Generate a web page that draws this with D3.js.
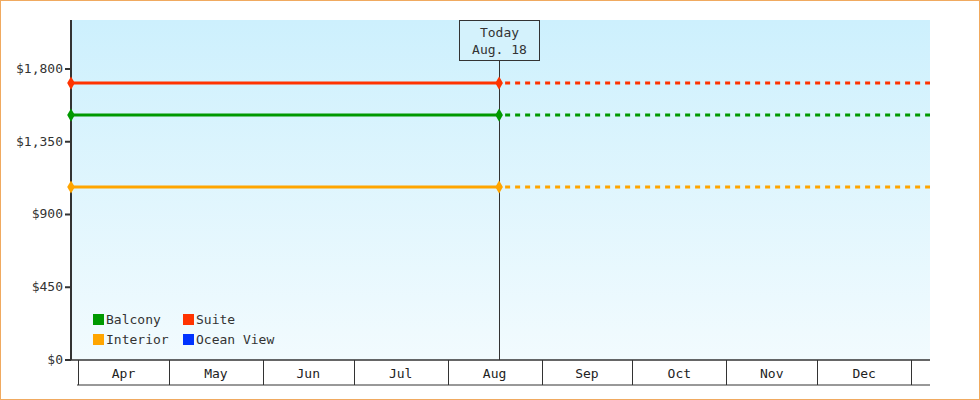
<!DOCTYPE html>
<html><head><meta charset="utf-8">
<script src="https://cdn.jsdelivr.net/npm/d3@7"></script>
<style>body{margin:0}svg{display:block;font-family:"DejaVu Sans Mono",monospace}</style>
</head><body>
<script>
// price series (flat), today marker
var seriesNames = ["Balcony", "Suite", "Interior", "Ocean View"];
var seriesColors = ["#009900", "#ff3300", "#ffa500", "#0033ff"];
var seriesValues = [1515, 1713, 1070, null];
var yTicks = [0, 450, 900, 1350, 1800];
var months = ["Apr", "May", "Jun", "Jul", "Aug", "Sep", "Oct", "Nov", "Dec"];
var startDate = new Date(2023, 2, 29, 16), endDate = new Date(2024, 0, 7, 6);
var todayDate = new Date(2023, 7, 18);

var W = 980, H = 400, plotL = 71, plotR = 930, plotT = 20, plotB = 360;
var svg = d3.select("body").append("svg").attr("width", W).attr("height", H);

var grad = svg.append("defs").append("linearGradient").attr("id", "bg")
    .attr("x1", 0).attr("y1", 0).attr("x2", 0).attr("y2", 1);
grad.append("stop").attr("offset", "0%").attr("stop-color", "#cdf0fd");
grad.append("stop").attr("offset", "100%").attr("stop-color", "#f2fbfe");

svg.append("rect").attr("x", 0.5).attr("y", 0.5).attr("width", W - 1).attr("height", H - 1)
    .attr("fill", "#fff").attr("stroke", "#f0aa60");
svg.append("rect").attr("x", plotL).attr("y", plotT).attr("width", plotR - plotL).attr("height", plotB - plotT)
    .attr("fill", "url(#bg)");

var x = d3.scaleTime().domain([startDate, endDate]).range([plotL, plotR]);
var y = d3.scaleLinear().domain([0, 2103]).range([plotB, plotT]);

// y axis
svg.append("line").attr("x1", plotL).attr("x2", plotL).attr("y1", plotT).attr("y2", plotB)
    .attr("stroke", "#333").attr("stroke-width", 2);
yTicks.forEach(function (t) {
    svg.append("line").attr("x1", plotL - 6).attr("x2", plotL).attr("y1", y(t)).attr("y2", y(t))
        .attr("stroke", "#333").attr("stroke-width", 2);
    svg.append("text").attr("x", plotL - 8).attr("y", y(t) + 4).attr("text-anchor", "end")
        .attr("font-size", 13).attr("fill", "#333").text("$" + d3.format(",")(t));
});

// month band
svg.append("line").attr("x1", plotL - 6).attr("x2", plotR).attr("y1", plotB).attr("y2", plotB)
    .attr("stroke", "#333").attr("stroke-width", 1.5);
svg.append("line").attr("x1", plotL + 6).attr("x2", plotR).attr("y1", 385).attr("y2", 385)
    .attr("stroke", "#333");
for (var i = 0; i <= months.length; i++) {
    var d0 = new Date(2023, 3 + i, 1), d1 = new Date(2023, 4 + i, 1);
    var xb = Math.round(x(d0)) + 0.5;
    svg.append("line").attr("x1", xb).attr("x2", xb).attr("y1", plotB).attr("y2", 385).attr("stroke", "#333");
    if (i < months.length)
        svg.append("text").attr("x", (x(d0) + x(d1)) / 2).attr("y", 378).attr("text-anchor", "middle")
            .attr("font-size", 13).attr("fill", "#222").text(months[i]);
}

// today line
var tx = Math.round(x(todayDate)) + 0.5;
svg.append("line").attr("x1", tx).attr("x2", tx).attr("y1", 60).attr("y2", plotB).attr("stroke", "#333");
svg.append("rect").attr("x", tx - 40).attr("y", 20.5).attr("width", 80).attr("height", 40)
    .attr("fill", "#d4f2fc").attr("stroke", "#333");
svg.append("text").attr("x", tx).attr("y", 37).attr("text-anchor", "middle").attr("font-size", 13).attr("fill", "#333").text("Today");
svg.append("text").attr("x", tx).attr("y", 54).attr("text-anchor", "middle").attr("font-size", 13).attr("fill", "#333").text("Aug. 18");

// series
seriesValues.forEach(function (v, i) {
    if (v == null) return;
    var c = seriesColors[i];
    svg.append("line").attr("x1", x(startDate)).attr("x2", x(todayDate)).attr("y1", y(v)).attr("y2", y(v))
        .attr("stroke", c).attr("stroke-width", 3);
    svg.append("line").attr("x1", x(todayDate) + 6).attr("x2", plotR).attr("y1", y(v)).attr("y2", y(v))
        .attr("stroke", c).attr("stroke-width", 3).attr("stroke-dasharray", "5,5");
    [startDate, todayDate].forEach(function (d) {
        svg.append("path").attr("d", d3.symbol(d3.symbolDiamond, 50)())
            .attr("transform", "translate(" + x(d) + "," + y(v) + ")").attr("fill", c);
    });
});

// legend
seriesNames.forEach(function (n, i) {
    var lx = 93 + (i % 2) * 90, ly = 314 + Math.floor(i / 2) * 20;
    svg.append("rect").attr("x", lx).attr("y", ly).attr("width", 11).attr("height", 11).attr("fill", seriesColors[i]);
    svg.append("text").attr("x", lx + 13).attr("y", ly + 10).attr("font-size", 13).attr("fill", "#333").text(n);
});
</script>
</body></html>
